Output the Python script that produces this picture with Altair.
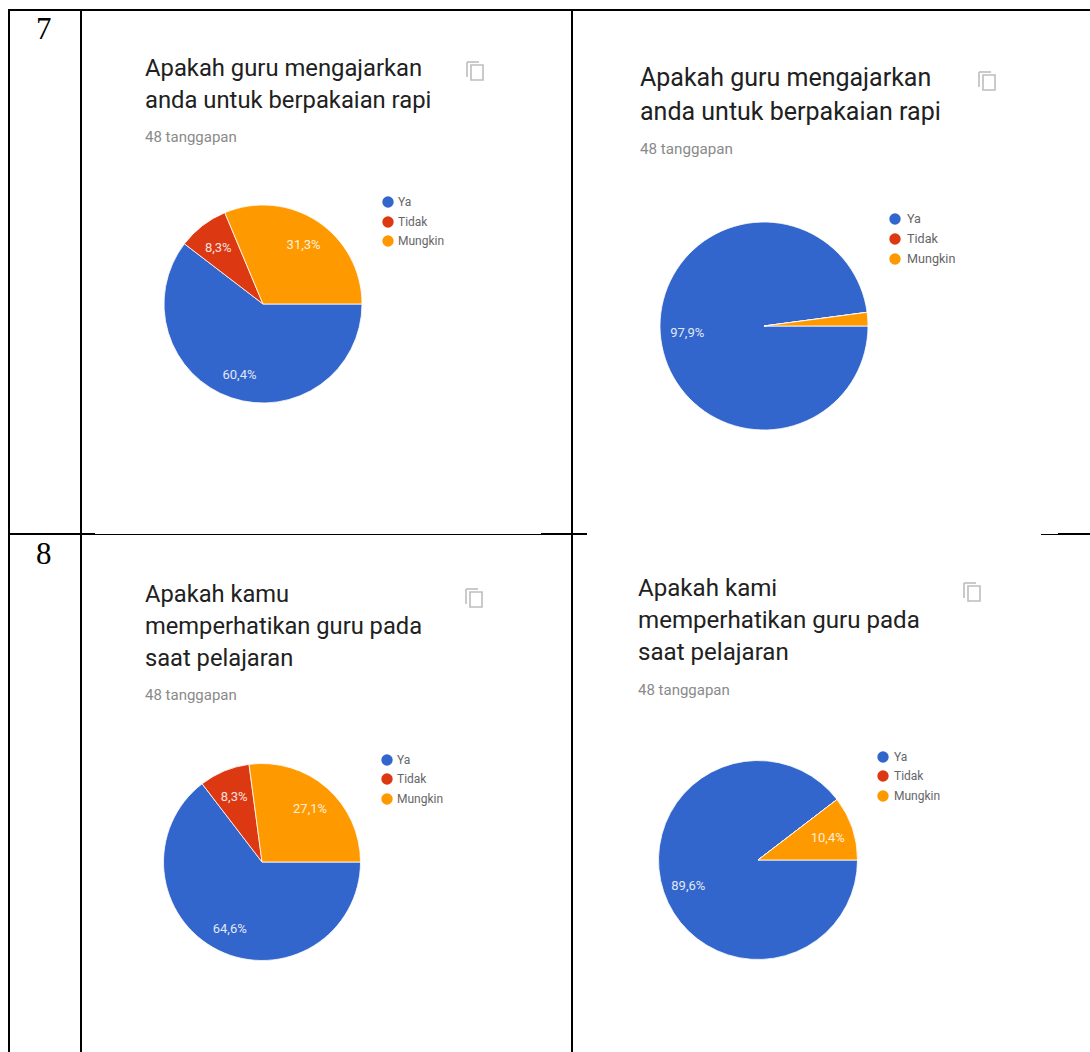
import math

import altair as alt
import pandas as pd

# Survey answers, in percent, one list per question panel
answers = ["Ya", "Tidak", "Mungkin"]
colors = ["#3366CC", "#DC3912", "#FF9900"]
panel_values = [
    [60.4, 8.3, 31.3],
    [97.9, 0.0, 2.1],
    [64.6, 8.3, 27.1],
    [89.6, 0.0, 10.4],
]
panel_titles = [
    ["Apakah guru mengajarkan", "anda untuk berpakaian rapi"],
    ["Apakah guru mengajarkan", "anda untuk berpakaian rapi"],
    ["Apakah kamu", "memperhatikan guru pada", "saat pelajaran"],
    ["Apakah kami", "memperhatikan guru pada", "saat pelajaran"],
]
subtitle = "48 tanggapan"
row_numbers = ["7", "8"]

# Where each panel sits on the page
layouts = [
    dict(tx=145, ty=[69, 101], sx=145, sy=137, ss=15.0, ix=475, iy=71, lx=388, ly=[202, 222, 241], ltx=398, ls=12, cx=263, cy=304, r=99, ts=23.8),
    dict(tx=640, ty=[78, 112], sx=640, sy=149, ss=15.2, ix=987, iy=81, lx=895, ly=[219, 239, 259], ltx=907, ls=12.6, cx=764, cy=326, r=104, ts=25),
    dict(tx=145, ty=[595, 627, 659], sx=145, sy=695, ss=15.0, ix=474, iy=598, lx=387, ly=[760, 779, 799], ltx=397, ls=12, cx=262, cy=862, r=98.5, ts=23.7),
    dict(tx=638, ty=[589, 621, 653], sx=638, sy=690, ss=15.0, ix=972, iy=592, lx=883, ly=[757, 776, 796], ltx=894, ls=12, cx=758, cy=860, r=99.5, ts=24.1),
]

MIN_LABELLED = 5.0
FONT = "Roboto"

color_scale = alt.Scale(domain=answers, range=colors)
theta_scale = alt.Scale(domain=[0, 100], range=[math.pi / 2, math.pi / 2 + 2 * math.pi])


def text_layer(lines, x, ys, size, color, font=FONT, weight=400):
    return (
        alt.Chart(pd.DataFrame({"t": lines, "y": ys}))
        .mark_text(align="left", baseline="middle", font=font, fontSize=size, color=color, fontWeight=weight)
        .encode(text="t:N", x=alt.value(x), y=alt.Y("y:Q", scale=None))
    )


def rule(x1, y1, x2, y2, color="#000000", width=2.0):
    return alt.Chart(pd.DataFrame({"v": [0]})).mark_rule(color=color, strokeWidth=width).encode(
        x=alt.value(x1), x2=alt.value(x2), y=alt.value(y1), y2=alt.value(y2)
    )


def copy_icon(x, y):
    # Front sheet plus the L-shaped edge of the sheet behind it
    front = alt.Chart(pd.DataFrame({"v": [0]})).mark_rect(fill="#FFFFFF", stroke="#BDBDBD", strokeWidth=1.6).encode(
        x=alt.value(x - 4), x2=alt.value(x + 8), y=alt.value(y - 6), y2=alt.value(y + 9)
    )
    return [
        rule(x - 8, y - 9, x - 8, y + 6, "#BDBDBD", 1.6),
        rule(x - 8, y - 9, x + 4, y - 9, "#BDBDBD", 1.6),
        front,
    ]


def panel(values, titles, pos):
    df = pd.DataFrame({"answer": answers, "value": values, "rank": [0, 1, 2]})
    df["label"] = [f"{v:.1f}%".replace(".", ",") if v >= MIN_LABELLED else "" for v in values]

    pie = alt.Chart(df).mark_arc(stroke="#FFFFFF", strokeWidth=1, strokeOpacity=0.8, radius=pos["r"]).encode(
        theta=alt.Theta("value:Q", stack=True, scale=theta_scale),
        color=alt.Color("answer:N", scale=color_scale, legend=None),
        order=alt.Order("rank:Q"),
        x=alt.value(pos["cx"]),
        y=alt.value(pos["cy"]),
    )
    slice_labels = alt.Chart(df).mark_text(
        radius=pos["r"] * 0.74, dy=2, font=FONT, fontSize=13, color="#FFFFFF", opacity=0.85
    ).encode(
        theta=alt.Theta("value:Q", stack=True, scale=theta_scale),
        detail="rank:O",
        order=alt.Order("rank:Q"),
        text="label:N",
        x=alt.value(pos["cx"]),
        y=alt.value(pos["cy"]),
    )

    key_df = pd.DataFrame({"answer": answers, "y": pos["ly"]})
    key_dots = alt.Chart(key_df).mark_circle(size=130, opacity=1).encode(
        x=alt.value(pos["lx"]),
        y=alt.Y("y:Q", scale=None),
        color=alt.Color("answer:N", scale=color_scale, legend=None),
    )
    key_text = text_layer(answers, pos["ltx"], pos["ly"], pos["ls"], "#666666")

    return [
        text_layer(titles, pos["tx"], pos["ty"], pos["ts"], "#212121"),
        text_layer([subtitle], pos["sx"], [pos["sy"]], pos["ss"], "#8A8A8A"),
        *copy_icon(pos["ix"], pos["iy"]),
        pie,
        slice_labels,
        key_dots,
        key_text,
    ]


layers = []
for vals, ttl, lay in zip(panel_values, panel_titles, layouts):
    layers.extend(panel(vals, ttl, lay))

# Table frame around the panels; the row divider changes weight along its length
frame = [
    rule(9, 10, 9, 1052),
    rule(81, 10, 81, 1052),
    rule(572, 10, 572, 1052),
    rule(8, 10, 1090, 10),
    rule(8, 534, 95, 534),
    rule(95, 534.5, 541, 534.5, width=1),
    rule(541, 534, 587, 534),
    rule(1041, 534.5, 1058, 534.5, width=1),
    rule(1058, 534, 1090, 534),
]
numbers = [
    text_layer([row_numbers[0]], 36, [30], 31, "#000000", font="Liberation Serif"),
    text_layer([row_numbers[1]], 36, [555], 31, "#000000", font="Liberation Serif"),
]

chart = (
    alt.layer(*layers, *frame, *numbers)
    .properties(width=1090, height=1052, padding=0, autosize=alt.AutoSizeParams(type="none"), background="#FFFFFF")
    .configure_view(stroke=None)
)

chart.save("out.html", embed_options={"renderer": "svg", "actions": False})
